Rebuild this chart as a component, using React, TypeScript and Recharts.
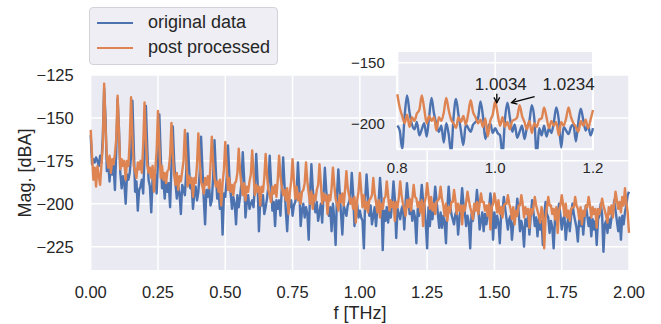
import { CartesianGrid, Label, Legend, Line, LineChart, ReferenceArea, ReferenceDot, XAxis, YAxis } from 'recharts';

const BLUE = '#4c72b0';
const ORANGE = '#dd8452';
const INK = '#262626';
const FONT = '"Liberation Sans", Arial, sans-serif';

// spectrum bins every 5 GHz from 0 to 2 THz (401 bins), magnitudes in dBA
const STEP = 0.005;

// prettier-ignore
const original = [
  -160, -177, -174, -176, -173, -175, -178, -172, -176, -161,
  -133, -150, -181, -176, -187, -177, -183, -178, -192, -169,
  -139, -156, -182, -191, -184, -188, -200, -183, -186, -182,
  -172, -140, -167, -193, -187, -204, -192, -190, -186, -194,
  -172, -143, -167, -186, -190, -205, -185, -189, -183, -194,
  -175, -148, -171, -191, -186, -197, -187, -193, -188, -202,
  -178, -155, -175, -188, -197, -190, -194, -206, -189, -192,
  -195, -181, -159, -178, -191, -189, -203, -194, -190, -198,
  -193, -182, -161, -179, -197, -212, -192, -196, -190, -201,
  -198, -184, -163, -181, -197, -192, -203, -193, -218, -194,
  -196, -186, -166, -183, -194, -203, -196, -200, -212, -195,
  -202, -196, -188, -170, -185, -208, -199, -195, -203, -200,
  -198, -202, -189, -171, -187, -216, -197, -201, -195, -206,
  -202, -197, -190, -172, -188, -204, -199, -213, -198, -203,
  -198, -207, -191, -173, -189, -204, -216, -199, -202, -198,
  -207, -201, -199, -194, -176, -191, -213, -204, -200, -208,
  -202, -206, -221, -194, -177, -191, -201, -205, -199, -210,
  -205, -200, -211, -195, -179, -192, -201, -207, -202, -216,
  -200, -209, -224, -195, -180, -193, -206, -218, -201, -204,
  -207, -201, -199, -196, -182, -194, -213, -204, -200, -208,
  -204, -208, -210, -226, -197, -183, -195, -207, -201, -212,
  -207, -202, -213, -203, -198, -185, -196, -227, -204, -210,
  -202, -211, -204, -208, -199, -187, -197, -220, -203, -206,
  -209, -203, -201, -215, -199, -188, -197, -206, -202, -210,
  -204, -208, -223, -203, -207, -199, -189, -198, -201, -212,
  -226, -202, -213, -203, -209, -200, -190, -198, -206, -214,
  -205, -214, -207, -211, -223, -202, -190, -200, -206, -209,
  -212, -206, -204, -218, -209, -202, -191, -200, -205, -213,
  -207, -211, -226, -206, -210, -204, -202, -192, -201, -215,
  -210, -205, -216, -206, -212, -207, -203, -194, -202, -221,
  -205, -214, -207, -211, -223, -206, -204, -196, -203, -209,
  -215, -209, -207, -221, -212, -208, -206, -197, -205, -216,
  -210, -214, -225, -209, -213, -207, -218, -207, -198, -205,
  -213, -208, -219, -209, -215, -210, -224, -207, -199, -206,
  -208, -217, -210, -214, -226, -209, -212, -207, -200, -206,
  -215, -209, -207, -221, -212, -208, -216, -207, -200, -206,
  -210, -214, -222, -209, -213, -207, -218, -208, -201, -207,
  -213, -208, -219, -209, -215, -210, -224, -209, -207, -200,
  -206, -228, -212, -210, -217, -209, -214, -208, -205, -198,
  -204, -210, -216, -208, -221, -207, -212, -205, -201, -195,
  -193,
];

// prettier-ignore
const postProcessed = [
  -157, -172, -186, -179, -190, -178, -184, -189, -177, -166,
  -130, -155, -173, -179, -172, -182, -174, -177, -171, -162,
  -137, -159, -180, -174, -178, -175, -186, -175, -178, -163,
  -138, -161, -178, -181, -185, -176, -180, -175, -182, -166,
  -141, -163, -177, -182, -179, -185, -178, -193, -180, -169,
  -146, -166, -185, -178, -186, -182, -188, -181, -180, -172,
  -153, -171, -183, -189, -182, -192, -184, -187, -181, -175,
  -157, -173, -190, -184, -188, -185, -196, -185, -188, -177,
  -159, -175, -187, -190, -194, -185, -189, -184, -191, -178,
  -161, -176, -185, -190, -187, -193, -186, -201, -188, -180,
  -164, -178, -192, -185, -193, -189, -195, -188, -187, -182,
  -168, -181, -189, -195, -188, -198, -190, -193, -187, -183,
  -169, -182, -195, -189, -193, -190, -201, -190, -193, -185,
  -171, -183, -192, -195, -199, -190, -194, -189, -196, -186,
  -172, -184, -190, -195, -192, -198, -191, -206, -193, -187,
  -174, -186, -197, -190, -198, -194, -200, -193, -192, -188,
  -176, -187, -194, -200, -193, -203, -195, -198, -192, -189,
  -177, -188, -200, -194, -198, -195, -206, -195, -198, -191,
  -179, -189, -197, -200, -204, -195, -199, -194, -201, -192,
  -181, -191, -195, -200, -197, -203, -196, -211, -198, -193,
  -182, -192, -202, -195, -203, -199, -205, -198, -197, -195,
  -185, -194, -199, -205, -198, -208, -200, -203, -197, -196,
  -187, -195, -204, -198, -202, -199, -210, -199, -202, -196,
  -187, -195, -200, -203, -207, -198, -202, -197, -204, -197,
  -189, -196, -197, -202, -199, -205, -198, -213, -200, -196,
  -188, -195, -203, -196, -204, -200, -206, -199, -198, -197,
  -190, -197, -201, -207, -200, -210, -202, -205, -199, -199,
  -192, -198, -206, -200, -204, -201, -212, -201, -204, -199,
  -193, -198, -202, -205, -209, -200, -204, -199, -206, -200,
  -194, -199, -199, -204, -201, -207, -200, -215, -202, -200,
  -194, -199, -205, -198, -206, -202, -208, -201, -200, -200,
  -195, -200, -203, -209, -202, -212, -204, -207, -201, -201,
  -195, -200, -208, -202, -206, -203, -214, -203, -206, -202,
  -196, -201, -204, -207, -211, -202, -206, -226, -208, -202,
  -196, -201, -201, -206, -203, -209, -202, -217, -204, -201,
  -195, -200, -207, -200, -208, -204, -210, -203, -202, -202,
  -196, -201, -203, -209, -202, -212, -204, -207, -201, -202,
  -196, -201, -208, -202, -206, -203, -214, -203, -206, -202,
  -197, -201, -204, -207, -211, -202, -206, -201, -208, -200,
  -193, -198, -203, -199, -205, -196, -201, -191, -199, -205,
  -217,
];

const xTicks = [0, 0.25, 0.5, 0.75, 1, 1.25, 1.5, 1.75, 2];
const yTicks = [-225, -200, -175, -150, -125];
const insetXTicks = [0.8, 1.0, 1.2];
const insetYTicks = [-200, -150];

// annotated peaks in the zoom window: orange one, then the blue one
const peakNotes = [
  { f: 1.0034, mag: -183, label: '1.0034' },
  { f: 1.0234, mag: -183, label: '1.0234' },
];

const rows = original.map((v, i) => ({
  f: Math.round(i * STEP * 1000) / 1000,
  original: v,
  post: postProcessed[i],
}));
const insetRows = rows.filter((r) => r.f >= 0.8 && r.f <= 1.2);

const minus = (v: number) => (v < 0 ? '\u2212' + Math.abs(v) : String(v));

const headPath = (x1: number, y1: number, x2: number, y2: number) => {
  const a = Math.atan2(y2 - y1, x2 - x1);
  const len = 6;
  const s = 0.5;
  return `M${x2 - len * Math.cos(a - s)} ${y2 - len * Math.sin(a - s)}L${x2} ${y2}L${x2 - len * Math.cos(a + s)} ${y2 - len * Math.sin(a + s)}`;
};

const Callout = ({ cx, cy, which, label }: any) => {
  // pixel offsets of text and arrow tail relative to the peak
  const tip = which === 0 ? [cx, cy] : [cx + 5, cy];
  const tail = which === 0 ? [cx, cy - 9] : [cx + 28, cy - 6];
  const tx = which === 0 ? cx + 4 : cx + 62;
  return (
    <g>
      <line x1={tail[0]} y1={tail[1]} x2={tip[0]} y2={tip[1]} stroke="#000" strokeWidth={1.3} />
      <path d={headPath(tail[0], tail[1], tip[0], tip[1])} fill="none" stroke="#000" strokeWidth={1.3} />
      <text x={tx} y={cy - 18} textAnchor="middle" dominantBaseline="central" fontSize={17} fill={INK} fontFamily={FONT}>
        {label}
      </text>
    </g>
  );
};

const LegendBox = ({ payload }: any) => (
  <div
    style={{
      boxSizing: 'border-box',
      width: 189,
      height: 58,
      background: '#eeeef4',
      border: '1px solid #d2d2da',
      borderRadius: 4,
      padding: '2px 0 0 7px',
      fontFamily: FONT,
    }}
  >
    {(payload || []).map((e: any) => (
      <div key={e.value} style={{ display: 'flex', alignItems: 'center', height: 25 }}>
        <svg width={36} height={4} style={{ display: 'block' }}>
          <line x1={0} y1={2} x2={36} y2={2} stroke={e.color} strokeWidth={2} />
        </svg>
        <span style={{ marginLeft: 15, fontSize: 18, color: INK, lineHeight: '25px' }}>{e.value}</span>
      </div>
    ))}
  </div>
);

function MainChart() {
  return (
    <LineChart width={661} height={324} data={rows} margin={{ top: 75, right: 32, bottom: 13.3, left: 30.7 }}>
      <CartesianGrid fill="#eaeaf2" stroke="#fff" strokeWidth={1.5} />
      <XAxis
        dataKey="f"
        type="number"
        domain={[0, 2]}
        ticks={xTicks}
        tickFormatter={(v: number) => v.toFixed(2)}
        height={40}
        axisLine={false}
        tickLine={false}
        tickSize={0}
        tickMargin={16}
        tick={{ fill: INK, fontSize: 16.5, fontFamily: FONT }}
      >
        <Label
          content={() => (
            <text x={360} y={313} textAnchor="middle" dominantBaseline="central" fontSize={18} fill={INK} fontFamily={FONT}>
              f [THz]
            </text>
          )}
        />
      </XAxis>
      <YAxis
        type="number"
        domain={[-239, -125]}
        ticks={yTicks}
        tickFormatter={minus}
        width={60}
        axisLine={false}
        tickLine={false}
        tickSize={0}
        tickMargin={17}
        tick={{ fill: INK, fontSize: 16.5, fontFamily: FONT }}
      >
        <Label
          content={() => (
            <text
              x={25}
              y={173}
              transform="rotate(-90 25 173)"
              textAnchor="middle"
              dominantBaseline="central"
              fontSize={18}
              fill={INK}
              fontFamily={FONT}
            >
              Mag. [dBA]
            </text>
          )}
        />
      </YAxis>
      <Legend
        layout="vertical"
        align="center"
        verticalAlign="middle"
        wrapperStyle={{ left: 89, top: 7, width: 189, height: 58 }}
        content={LegendBox}
      />
      <Line dataKey="original" name="original data" stroke={BLUE} strokeWidth={2.4} strokeLinejoin="round" dot={false} isAnimationActive={false} />
      <Line dataKey="post" name="post processed" stroke={ORANGE} strokeWidth={2.4} strokeLinejoin="round" dot={false} isAnimationActive={false} />
    </LineChart>
  );
}

function InsetChart() {
  return (
    <LineChart width={290} height={145} data={insetRows} margin={{ top: 11, right: 34, bottom: 5.7, left: 10.3 }}>
      <CartesianGrid fill="#eaeaf2" stroke="#fff" strokeWidth={1.5} />
      <XAxis
        dataKey="f"
        type="number"
        domain={[0.8, 1.2]}
        ticks={insetXTicks}
        tickFormatter={(v: number) => v.toFixed(1)}
        height={30}
        axisLine={false}
        tickLine={false}
        tickSize={0}
        tickMargin={13}
        tick={{ fill: INK, fontSize: 15, fontFamily: FONT }}
      />
      <YAxis
        type="number"
        domain={[-221.5, -140.3]}
        allowDataOverflow
        ticks={insetYTicks}
        tickFormatter={minus}
        width={50}
        axisLine={false}
        tickLine={false}
        tickSize={0}
        tickMargin={12.5}
        tick={{ fill: INK, fontSize: 15, fontFamily: FONT }}
      />
      <ReferenceArea x1={0.8} x2={1.2} y1={-221.5} y2={-140.3} fill="none" stroke="#fff" strokeWidth={2} />
      <Line type="monotone" dataKey="original" stroke={BLUE} strokeWidth={2.4} strokeLinejoin="round" dot={false} isAnimationActive={false} />
      <Line type="monotone" dataKey="post" stroke={ORANGE} strokeWidth={2.4} strokeLinejoin="round" dot={false} isAnimationActive={false} />
      {peakNotes.map((p, i) => (
        <ReferenceDot
          key={p.label}
          x={p.f}
          y={p.mag}
          shape={(props: any) => <Callout {...props} which={i} label={p.label} />}
        />
      ))}
    </LineChart>
  );
}

export default function App() {
  return (
    <div style={{ position: 'absolute', left: 0, top: 0, width: 661, height: 324, background: '#fff' }}>
      <MainChart />
      <div style={{ position: 'absolute', left: 337, top: 40 }}>
        <InsetChart />
      </div>
    </div>
  );
}
